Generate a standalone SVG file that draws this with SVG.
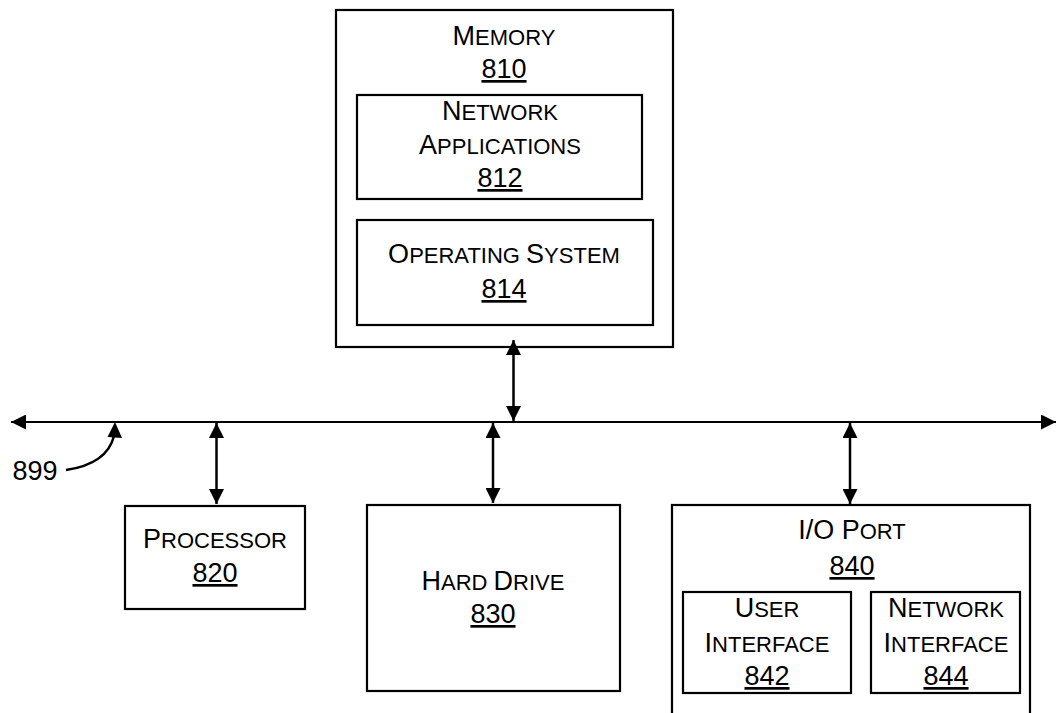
<svg xmlns="http://www.w3.org/2000/svg" width="1057" height="713" viewBox="0 0 1057 713">
<defs>
<style>
.box{fill:none;stroke:#000;stroke-width:2.2}
.t{font-family:"Liberation Sans",Arial,sans-serif;font-size:22px;text-anchor:middle;fill:#000}
.b{font-size:27px}
.n{font-family:"Liberation Sans",Arial,sans-serif;font-size:27px;text-anchor:middle;fill:#000;text-decoration:underline}
.c{fill:none;stroke:#000;stroke-width:2.5}
.bus{fill:none;stroke:#000;stroke-width:1.8}
</style>
<marker id="ah" viewBox="0 0 15 15" refX="15" refY="7.5" markerWidth="15" markerHeight="15" markerUnits="userSpaceOnUse" orient="auto-start-reverse">
<path d="M0,0 L15,7.5 L0,15 z" fill="#000"/>
</marker>
</defs>
<rect width="1057" height="713" fill="#fff"/>
<g id="connectors">
<line class="bus" x1="11" y1="422" x2="1056" y2="422" marker-start="url(#ah)" marker-end="url(#ah)"/>
<line class="c" x1="513.5" y1="340" x2="513.5" y2="421" marker-start="url(#ah)" marker-end="url(#ah)"/>
<line class="c" x1="216.5" y1="423" x2="216.5" y2="504" marker-start="url(#ah)" marker-end="url(#ah)"/>
<line class="c" x1="493" y1="423" x2="493" y2="503" marker-start="url(#ah)" marker-end="url(#ah)"/>
<line class="c" x1="850" y1="423" x2="850" y2="504" marker-start="url(#ah)" marker-end="url(#ah)"/>
<path class="c" d="M66,470 Q107,464 114,436"/>
<path d="M115,422 L107.5,437 L122,438 z" fill="#000"/>
</g>
<g id="label-899">
<text x="35" y="480" font-family="Liberation Sans,Arial,sans-serif" font-size="27" text-anchor="middle">899</text>
</g>
<g id="memory">
<rect class="box" x="336" y="10" width="337" height="337"/>
<text class="t" x="504" y="45"><tspan class="b">M</tspan>EMORY</text>
<text class="n" x="504" y="78">810</text>
</g>
<g id="network-applications">
<rect class="box" x="357" y="95" width="285" height="104"/>
<text class="t" x="500" y="120"><tspan class="b">N</tspan>ETWORK</text>
<text class="t" x="500" y="154"><tspan class="b">A</tspan>PPLICATIONS</text>
<text class="n" x="500" y="187">812</text>
</g>
<g id="operating-system">
<rect class="box" x="357" y="220" width="296" height="105"/>
<text class="t" x="504" y="263"><tspan class="b">O</tspan>PERATING <tspan class="b">S</tspan>YSTEM</text>
<text class="n" x="504" y="298">814</text>
</g>
<g id="processor">
<rect class="box" x="125" y="506" width="180" height="103"/>
<text class="t" x="215" y="548"><tspan class="b">P</tspan>ROCESSOR</text>
<text class="n" x="215" y="582">820</text>
</g>
<g id="hard-drive">
<rect class="box" x="367" y="505" width="253" height="186"/>
<text class="t" x="493" y="590"><tspan class="b">H</tspan>ARD <tspan class="b">D</tspan>RIVE</text>
<text class="n" x="493" y="623">830</text>
</g>
<g id="io-port">
<rect class="box" x="672" y="505" width="358" height="230"/>
<text class="t" x="852" y="539"><tspan class="b">I/O P</tspan>ORT</text>
<text class="n" x="852" y="575">840</text>
</g>
<g id="user-interface">
<rect class="box" x="683" y="592" width="168" height="101"/>
<text class="t" x="767" y="617"><tspan class="b">U</tspan>SER</text>
<text class="t" x="767" y="652"><tspan class="b">I</tspan>NTERFACE</text>
<text class="n" x="767" y="685">842</text>
</g>
<g id="network-interface">
<rect class="box" x="871" y="592" width="149" height="101"/>
<text class="t" x="946" y="617"><tspan class="b">N</tspan>ETWORK</text>
<text class="t" x="946" y="652"><tspan class="b">I</tspan>NTERFACE</text>
<text class="n" x="946" y="685">844</text>
</g>
</svg>
